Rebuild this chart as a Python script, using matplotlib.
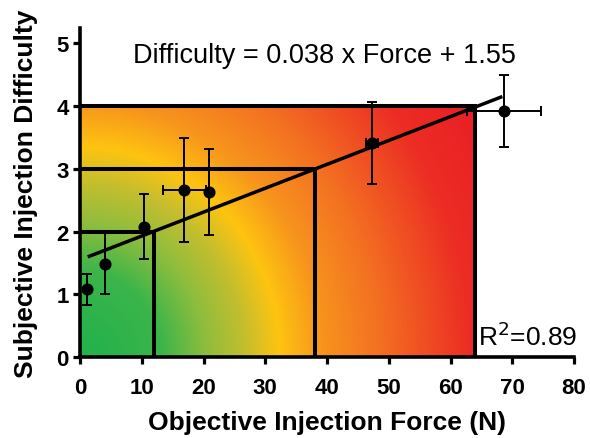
import numpy as np
import matplotlib
matplotlib.use("Agg")
import matplotlib.pyplot as plt
from matplotlib.colors import LinearSegmentedColormap

plt.rcParams['font.family'] = ['Liberation Sans', 'DejaVu Sans']

# ---- data ----
force = [1.1, 4.1, 10.4, 16.9, 20.9, 47.3, 68.6]
difficulty = [1.08, 1.49, 2.08, 2.66, 2.63, 3.41, 3.92]
diff_err = [0.25, 0.48, 0.52, 0.83, 0.69, 0.66, 0.57]
force_err = [0.0, 0.0, 0.0, 3.5, 0.0, 0.95, 6.0]

slope = 0.038
intercept = 1.55
fit_range = [1.25, 68.4]

zone_force = [12, 38, 64]
zone_difficulty = [2, 3, 4]

x_ticks = [0, 10, 20, 30, 40, 50, 60, 70, 80]
y_ticks = [0, 1, 2, 3, 4, 5]

# ---- figure ----
fig = plt.figure(figsize=(5.90, 4.39), dpi=100)
ax = fig.add_axes([80/590, 1 - 358.3/439, (574 - 80)/590, (358.3 - 29)/439])
ax.set_xlim(0, 80)
ax.set_ylim(0, 5.24)

# radial gradient in display space centred on the origin
fig.canvas.draw()
gx = np.linspace(0, zone_force[-1], 400)
gy = np.linspace(0, zone_difficulty[-1], 200)
GX, GY = np.meshgrid(gx, gy)
pts = ax.transData.transform(np.column_stack([GX.ravel(), GY.ravel()]))
o = ax.transData.transform((0, 0))
dist = np.hypot(pts[:, 0] - o[0], (pts[:, 1] - o[1]) * 0.95).reshape(GX.shape)
stops = [(0, '#22b14c'), (80, '#3ab54a'), (125, '#8dbd3e'), (165, '#c4be2e'),
         (199, '#fec410'), (242, '#f7941d'), (300, '#f37021'), (390, '#ec2d24'),
         (470, '#ea1c24')]
dmax = stops[-1][0]
cmap = LinearSegmentedColormap.from_list('g', [(d / dmax, c) for d, c in stops])
ax.imshow(dist / dmax, extent=[0, zone_force[-1], 0, zone_difficulty[-1]], origin='lower',
          cmap=cmap, vmin=0, vmax=1, aspect='auto', interpolation='bilinear', zorder=0)

# zone boundary lines
for fx, dy in zip(zone_force, zone_difficulty):
    ax.plot([0, fx, fx], [dy, dy, 0], color='black', lw=2.9, zorder=2,
            solid_capstyle='butt', solid_joinstyle='miter')

# regression line
fx = np.array(fit_range)
ax.plot(fx, slope * fx + intercept, color='black', lw=2.5, zorder=3, solid_capstyle='butt')

# data points with error bars
ax.errorbar(force, difficulty, yerr=diff_err, xerr=force_err, fmt='o', color='black',
            ms=7.7, elinewidth=1.4, capsize=3.4, capthick=1.4, zorder=4)

# text
ax.text(39.6, 4.695, 'Difficulty = 0.038 x Force + 1.55', ha='center', va='baseline',
        fontsize=19.5)
ax.text(64.5, 0.2, 'R$^2$=0.89', ha='left', va='baseline', fontsize=19)

# axes styling
for s in ['top', 'right']:
    ax.spines[s].set_visible(False)
for s in ['left', 'bottom']:
    ax.spines[s].set_linewidth(2.6)
    ax.spines[s].set_zorder(5)
ax.set_xticks(x_ticks)
ax.set_yticks(y_ticks)
ax.tick_params(direction='out', length=5, width=2.3, labelsize=16)
ax.tick_params(axis='x', pad=9)
ax.tick_params(axis='y', pad=3)
for lab in ax.get_xticklabels() + ax.get_yticklabels():
    lab.set_fontweight('bold')
ax.set_xlabel('Objective Injection Force (N)', fontsize=19, fontweight='bold', labelpad=9)
ax.set_ylabel('Subjective Injection Difficulty', fontsize=19, fontweight='bold', labelpad=13)

fig.savefig('out.png', dpi=100)
